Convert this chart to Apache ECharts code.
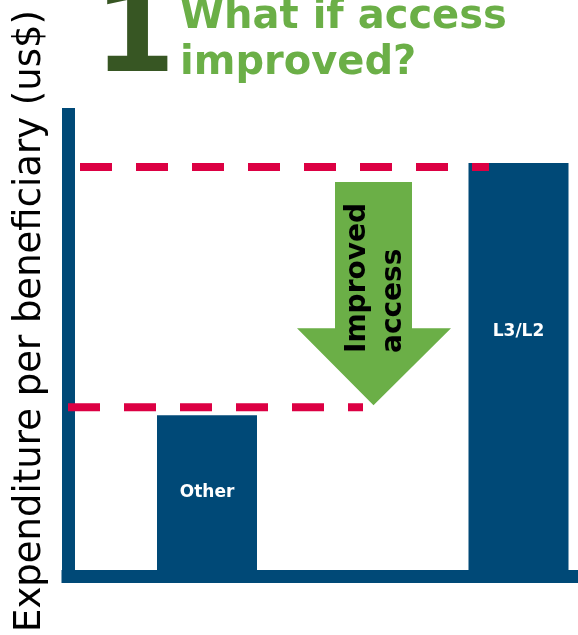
<!DOCTYPE html>
<html>
<head>
<meta charset="utf-8">
<script src="https://cdn.jsdelivr.net/npm/echarts@6/dist/echarts.min.js"></script>
<style>
  html, body { margin: 0; padding: 0; background: #ffffff; }
  #chart { width: 578px; height: 635px; }
</style>
</head>
<body>
<div id="chart"></div>
<script>
// Beneficiary groups and their expenditure per beneficiary (relative units)
const categories = ['Other', 'L3/L2'];
const expenditure = [38, 100];
// Dashed reference levels: current L3/L2 spending and the level after improved access
const referenceLevels = [99, 40];
const titleNumber = '1';
const titleText = 'What if access\nimproved?';
const arrowText = 'Improved\naccess';
const axisTitle = 'Expenditure per beneficiary (us$)';

const BLUE = '#004977';
const GREEN = '#6BAF47';
const DARK_GREEN = '#375623';
const RED = '#DC0043';
const FONT = '"DejaVu Sans", Verdana, sans-serif';

const chart = echarts.init(document.getElementById('chart'), null, { renderer: 'canvas' });

const hiddenAxis = {
  axisLine: { show: false }, axisTick: { show: false },
  axisLabel: { show: false }, splitLine: { show: false }
};
const frameLine = {
  show: true, onZero: false,
  lineStyle: { color: BLUE, width: 13, cap: 'square' }
};

const option = {
  animation: false,
  backgroundColor: '#ffffff',
  grid: [
    // frame holding the two thick axis lines
    { left: 68, top: 114.5, width: 578, height: 462, outerBoundsMode: 'none' },
    // plotting area for the bars
    { left: 51.25, top: 163, width: 623, height: 407, outerBoundsMode: 'none' }
  ],
  xAxis: [
    { gridIndex: 0, type: 'value', min: 0, max: 1,
      axisLine: frameLine, axisTick: { show: false }, axisLabel: { show: false }, splitLine: { show: false } },
    Object.assign({ gridIndex: 1, type: 'category', data: categories }, hiddenAxis)
  ],
  yAxis: [
    { gridIndex: 0, type: 'value', min: 0, max: 1,
      axisLine: frameLine, axisTick: { show: false }, axisLabel: { show: false }, splitLine: { show: false } },
    Object.assign({ gridIndex: 1, type: 'value', min: 0, max: 100 }, hiddenAxis)
  ],
  series: [{
    type: 'bar',
    xAxisIndex: 1,
    yAxisIndex: 1,
    barWidth: 100,
    z: 2,
    itemStyle: { color: BLUE },
    data: expenditure.map((v, i) => ({
      value: v,
      label: i === 1 ? { offset: [0, -35] } : {}
    })),
    label: {
      show: true,
      position: 'inside',
      formatter: p => categories[p.dataIndex],
      color: '#ffffff',
      fontFamily: FONT,
      fontWeight: 'bold',
      fontSize: 17
    }
  }]
};
chart.setOption(option);

const yUpper = chart.convertToPixel({ yAxisIndex: 1 }, referenceLevels[0]);
const yLower = chart.convertToPixel({ yAxisIndex: 1 }, referenceLevels[1]);

// Arrow from just under the upper level down to the lower level
const arrowTop = yUpper + 15;
const arrowTip = yLower - 2;
const headTop = arrowTip - 77;

chart.setOption({
  graphic: [
    {
      type: 'text', x: 30, y: 321, rotation: Math.PI / 2, z: 5,
      style: { text: axisTitle, fill: '#000000', align: 'center', verticalAlign: 'middle',
               font: '37px ' + FONT }
    },
    {
      type: 'text', x: 94, y: 41, z: 5,
      style: { text: titleNumber, fill: DARK_GREEN, align: 'left', verticalAlign: 'middle',
               font: 'bold 117px ' + FONT }
    },
    {
      type: 'text', x: 180, y: -5, z: 5,
      style: { text: titleText, fill: GREEN, align: 'left', verticalAlign: 'top',
               font: 'bold 40px ' + FONT, lineHeight: 46 }
    },
    {
      type: 'polygon', z: 6,
      shape: { points: [[335, arrowTop], [412, arrowTop], [412, headTop], [451, headTop],
                        [373.5, arrowTip], [297, headTop], [335, headTop]] },
      style: { fill: GREEN }
    },
    {
      type: 'text', x: 376, y: 353, rotation: Math.PI / 2, z: 7,
      style: { text: arrowText, fill: '#000000', align: 'left', verticalAlign: 'middle',
               font: 'bold 28px ' + FONT, lineHeight: 36 }
    },
    {
      type: 'line', z: 8,
      shape: { x1: 80, y1: yUpper, x2: 489, y2: yUpper },
      style: { stroke: RED, lineWidth: 8, lineDash: [32, 24] }
    },
    {
      type: 'line', z: 8,
      shape: { x1: 68, y1: yLower, x2: 363, y2: yLower },
      style: { stroke: RED, lineWidth: 8, lineDash: [32, 24] }
    }
  ]
});
</script>
</body>
</html>
